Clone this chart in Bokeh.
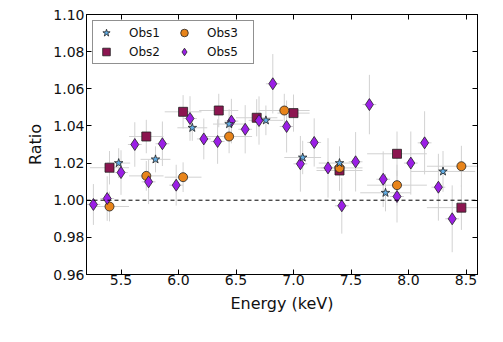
from bokeh.plotting import figure
from bokeh.models import (Legend, LegendItem, Span, FixedTicker, PrintfTickFormatter,
                          LinearAxis, Range1d, ColumnDataSource)
from bokeh.embed import file_html
from bokeh.resources import INLINE

# ---- data ----
x_ticks = [5.5, 6.0, 6.5, 7.0, 7.5, 8.0, 8.5]
y_ticks = [0.96, 0.98, 1.00, 1.02, 1.04, 1.06, 1.08, 1.10]

obs1_x = [5.48, 5.80, 6.12, 6.44, 6.76, 7.08, 7.40, 7.80, 8.30]
obs1_y = [1.020, 1.022, 1.039, 1.041, 1.043, 1.023, 1.020, 1.004, 1.0155]
obs1_xerr = [0.10, 0.13, 0.13, 0.14, 0.15, 0.16, 0.18, 0.22, 0.28]
obs1_yerr = [0.008, 0.007, 0.007, 0.008, 0.008, 0.009, 0.009, 0.010, 0.011]

obs2_x = [5.40, 5.72, 6.04, 6.35, 6.68, 7.00, 7.40, 7.90, 8.46]
obs2_y = [1.0175, 1.0343, 1.0476, 1.0483, 1.0444, 1.0469, 1.0160, 1.0250, 0.9960]
obs2_xerr = [0.17, 0.15, 0.16, 0.17, 0.18, 0.14, 0.20, 0.26, 0.30]
obs2_yerr = [0.009, 0.009, 0.009, 0.009, 0.010, 0.010, 0.011, 0.012, 0.012]

obs3_x = [5.40, 5.72, 6.04, 6.44, 6.92, 7.40, 7.90, 8.46]
obs3_y = [0.9966, 1.0131, 1.0124, 1.0343, 1.0483, 1.0174, 1.0081, 1.0183]
obs3_xerr = [0.17, 0.15, 0.16, 0.20, 0.22, 0.20, 0.26, 0.30]
obs3_yerr = [0.008, 0.008, 0.008, 0.009, 0.009, 0.010, 0.011, 0.011]

obs5_x = [5.26, 5.38, 5.50, 5.62, 5.74, 5.86, 5.98, 6.10, 6.22, 6.34, 6.46, 6.58, 6.70,
          6.82, 6.94, 7.06, 7.18, 7.30, 7.42, 7.54, 7.66, 7.78, 7.90, 8.02, 8.14, 8.26, 8.38]
obs5_y = [0.9977, 1.0009, 1.0149, 1.0300, 1.0099, 1.0304, 1.0081, 1.0440, 1.0330, 1.0316,
          1.0426, 1.0382, 1.0429, 1.0627, 1.0397, 1.0196, 1.0311, 1.0174, 0.9970, 1.0207,
          1.0515, 1.0113, 1.0020, 1.0200, 1.0309, 1.0070, 0.9900]
obs5_xerr = [0.06] * 27
obs5_yerr = [0.011, 0.012, 0.012, 0.012, 0.012, 0.012, 0.011, 0.012, 0.011, 0.012,
             0.012, 0.013, 0.013, 0.016, 0.014, 0.015, 0.013, 0.016, 0.015, 0.016,
             0.016, 0.015, 0.014, 0.017, 0.017, 0.018, 0.018]

FONT = "DejaVu Sans"
ERR_COLOR = "#d2d2d2"

p = figure(width=495, height=334, output_backend="svg", toolbar_location=None,
           x_range=Range1d(5.2, 8.6), y_range=Range1d(0.96, 1.10),
           min_border_left=86, min_border_top=14, min_border_right=18, min_border_bottom=60)
p.background_fill_color = "white"
p.border_fill_color = "white"
p.outline_line_color = "black"
p.outline_line_width = 1
p.grid.visible = False

def add_series(xs, ys, xe, ye):
    src = ColumnDataSource(dict(
        x=xs, y=ys,
        xl=[a - b for a, b in zip(xs, xe)], xr=[a + b for a, b in zip(xs, xe)],
        yl=[a - b for a, b in zip(ys, ye)], yh=[a + b for a, b in zip(ys, ye)]))
    p.segment(x0="xl", y0="y", x1="xr", y1="y", source=src, line_color=ERR_COLOR, line_width=1)
    p.segment(x0="x", y0="yl", x1="x", y1="yh", source=src, line_color=ERR_COLOR, line_width=1)
    return src

s1 = add_series(obs1_x, obs1_y, obs1_xerr, obs1_yerr)
s2 = add_series(obs2_x, obs2_y, obs2_xerr, obs2_yerr)
s3 = add_series(obs3_x, obs3_y, obs3_xerr, obs3_yerr)
s5 = add_series(obs5_x, obs5_y, obs5_xerr, obs5_yerr)

dash = Span(location=1.0, dimension="width", line_color="black", line_width=1, line_dash="4 3")
p.add_layout(dash)

r2 = p.scatter("x", "y", source=s2, marker="square", size=9, fill_color="#8c1550",
               line_color="#222222", line_width=0.8)
r3 = p.scatter("x", "y", source=s3, marker="circle", size=9, fill_color="#e8841a",
               line_color="#222222", line_width=0.8)
r5 = p.scatter("x", "y", source=s5, marker="diamond", size=12, fill_color="#9b1fe6",
               line_color="#222222", line_width=0.8)
r1 = p.scatter("x", "y", source=s1, marker="star", size=9, fill_color="#62aee6",
               line_color="#222222", line_width=0.8)

# axes
p.xaxis.ticker = FixedTicker(ticks=x_ticks)
p.yaxis.ticker = FixedTicker(ticks=y_ticks)
p.xaxis.formatter = PrintfTickFormatter(format="%.1f")
p.yaxis.formatter = PrintfTickFormatter(format="%.2f")
p.xaxis.axis_label = "Energy (keV)"
p.yaxis.axis_label = "Ratio"
for ax in (p.xaxis[0], p.yaxis[0]):
    ax.major_tick_in = 5
    ax.major_tick_out = 0
    ax.minor_tick_in = 0
    ax.minor_tick_out = 0
    ax.axis_line_color = "black"
    ax.major_tick_line_color = "black"
    ax.major_label_text_font = FONT
    ax.major_label_text_font_size = "14px"
    ax.major_label_text_color = "#111111"
    ax.axis_label_text_font = FONT
    ax.axis_label_text_font_size = "16px"
    ax.axis_label_text_font_style = "normal"
    ax.axis_label_text_color = "#111111"
    ax.axis_label_standoff = 6

p.xaxis[0].major_label_standoff = 0
p.yaxis[0].major_label_standoff = 2
p.yaxis[0].axis_label_standoff = 5

top = LinearAxis(ticker=FixedTicker(ticks=x_ticks), major_label_text_font_size="0px",
                 major_label_overrides={t: "" for t in x_ticks},
                 major_label_standoff=0, major_tick_in=5, major_tick_out=0,
                 minor_tick_in=0, minor_tick_out=0, axis_line_color="black")
right = LinearAxis(ticker=FixedTicker(ticks=y_ticks), major_label_text_font_size="0px",
                   major_label_overrides={t: "" for t in y_ticks},
                   major_label_standoff=0, major_tick_in=5, major_tick_out=0,
                   minor_tick_in=0, minor_tick_out=0, axis_line_color="black")
p.add_layout(top, "above")
p.add_layout(right, "right")

legend = Legend(items=[LegendItem(label="Obs1", renderers=[r1]),
                       LegendItem(label="Obs2", renderers=[r2]),
                       LegendItem(label="Obs3", renderers=[r3]),
                       LegendItem(label="Obs5", renderers=[r5])],
                ncols=2, location="top_left", margin=6, padding=2, spacing=0,
                glyph_width=22, glyph_height=19, label_standoff=12, label_width=44,
                label_height=17,
                label_text_font=FONT, label_text_font_size="12px",
                label_text_color="#111111",
                border_line_color="#222222", border_line_width=1,
                background_fill_color="white", background_fill_alpha=1.0)
p.add_layout(legend)

open("out.html", "w").write(file_html(p, INLINE))
